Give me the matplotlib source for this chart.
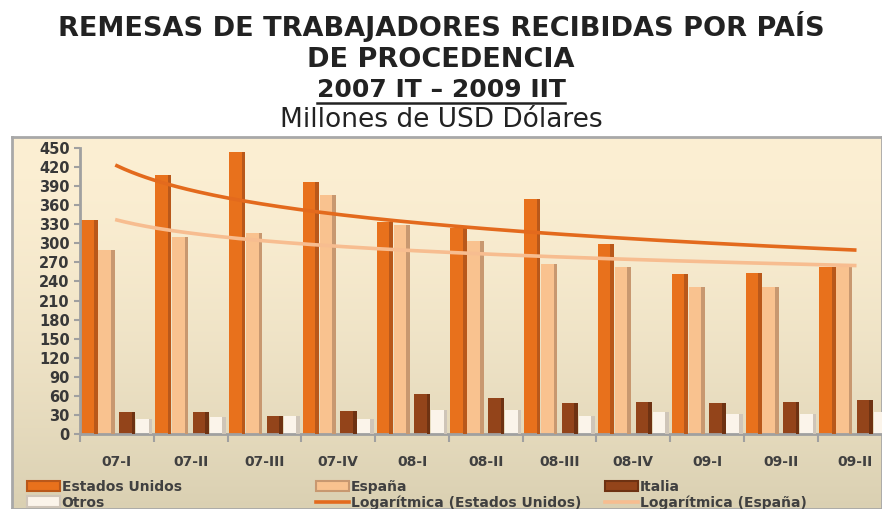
import numpy as np
import matplotlib.pyplot as plt
from matplotlib.patches import Patch
from matplotlib.lines import Line2D

# -*- data (millones de USD)

trimestres = ["07-I", "07-II", "07-III", "07-IV", "08-I", "08-II",
              "08-III", "08-IV", "09-I", "09-II", "09-II"]
estados_unidos = [336, 407, 443, 396, 334, 324, 369, 299, 251, 253, 263]
espana = [290, 310, 317, 376, 329, 303, 267, 263, 232, 232, 262]
italia = [35, 35, 29, 36, 63, 57, 48, 50, 48, 50, 53]
otros = [23, 26, 28, 23, 37, 37, 28, 35, 31, 31, 34]

x = np.arange(1, len(trimestres) + 1)

# -*- figure and background of the chart area

fig = plt.figure(figsize=(8.82, 5.09), dpi=100)
W, H = 882.0, 509.0

bg = fig.add_axes([12 / W, 0, 1 - 12 / W, (H - 137) / H], zorder=0)
grad = np.linspace(0, 1, 256).reshape(-1, 1)
c_top = np.array([252, 239, 211]) / 255
c_bot = np.array([218, 208, 178]) / 255
img = c_top + (c_bot - c_top) * grad[..., None] ** 1.6
bg.imshow(img.reshape(256, 1, 3), aspect="auto", extent=[0, 1, 0, 1])
bg.set_xticks([])
bg.set_yticks([])
for s in bg.spines.values():
    s.set_color("#a8a8a8")
    s.set_linewidth(2)

# -*- bars

ax = fig.add_axes([80 / W, (H - 434) / H, (W - 80) / W, (434 - 148) / H], zorder=1)
ax.patch.set_alpha(0)

w = 0.22
series = [
    (estados_unidos, -0.37, "#e8711c", "#b9581a", "Estados Unidos"),
    (espana, -0.14, "#f9c28f", "#c89870", "España"),
    (italia, 0.14, "#93441a", "#6e3212", "Italia"),
    (otros, 0.37, "#fbf4ea", "#cfc5b8", "Otros"),
]
handles = {}
for vals, off, col, dark, name in series:
    ax.bar(x + off, vals, width=w, color=col, zorder=2)
    ax.bar(x + off + w / 2 - 0.025, vals, width=0.05, color=dark, zorder=3)
    handles[name] = Patch(facecolor=col, edgecolor=dark, linewidth=1.5)

# -*- logarithmic trend lines (least squares on ln(x), as in the spreadsheet)

xs = np.linspace(1, len(trimestres), 200)
p_us = np.polyfit(np.log(x), estados_unidos, 1)
p_es = np.polyfit(np.log(x), espana, 1)
ax.plot(xs, np.polyval(p_us, np.log(xs)), color="#e36a1d", lw=2.6, zorder=4)
ax.plot(xs, np.polyval(p_es, np.log(xs)), color="#f7bd90", lw=2.6, zorder=4)
handles["Logarítmica (Estados Unidos)"] = Line2D([], [], color="#e36a1d", lw=2.6)
handles["Logarítmica (España)"] = Line2D([], [], color="#f7bd90", lw=2.6)

# -*- axes

ax.set_xlim(0.5, 11.37)
ax.set_ylim(0, 450)
ax.set_yticks(range(0, 451, 30))
ax.set_xticks(x)
ax.set_xticklabels(trimestres)
ax.set_xticks(np.arange(0.5, 11.5, 1), minor=True)
ax.tick_params(axis="x", which="major", length=0, pad=15, labelsize=10,
               labelcolor="#404040")
ax.tick_params(axis="x", which="minor", length=6, color="#a0a0a0", width=1.5)
ax.tick_params(axis="y", length=4, color="#a0a0a0", width=1.5, labelsize=10.5,
               labelcolor="#383838")
for lab in ax.get_xticklabels() + ax.get_yticklabels():
    lab.set_fontweight("bold")
for side in ["top", "right"]:
    ax.spines[side].set_visible(False)
for side in ["left", "bottom"]:
    ax.spines[side].set_color("#a0a0a0")
    ax.spines[side].set_linewidth(2)

# -*- legend, three columns of two rows

cols = [
    (["Estados Unidos", "Otros"], 20),
    (["España", "Logarítmica (Estados Unidos)"], 309),
    (["Italia", "Logarítmica (España)"], 598),
]
for names, xpos in cols:
    leg = fig.legend([handles[n] for n in names], names,
                     loc="upper left", bbox_to_anchor=(xpos / W, (H - 473) / H),
                     frameon=False, handlelength=2.4, handleheight=0.8,
                     handletextpad=0.1, labelspacing=0.12, borderpad=0,
                     prop={"weight": "bold", "size": 10})
    for t in leg.get_texts():
        t.set_color("#404040")

# -*- titles

tkw = dict(ha="center", va="baseline", color="#222222", family="DejaVu Sans")
fig.text(0.5, (H - 36) / H, "REMESAS DE TRABAJADORES RECIBIDAS POR PAÍS",
         fontsize=19.5, fontweight="bold", **tkw)
fig.text(0.5, (H - 67) / H, "DE PROCEDENCIA", fontsize=19.5, fontweight="bold", **tkw)
sub = fig.text(0.5, (H - 97) / H, "2007 IT – 2009 IIT", fontsize=18,
               fontweight="bold", **tkw)
fig.text(0.5, (H - 127) / H, "Millones de USD Dólares", fontsize=19, **tkw)

fig.canvas.draw()
bb = sub.get_window_extent()
fig.add_artist(Line2D([bb.x0 / W, bb.x1 / W], [(H - 103) / H] * 2,
                      color="#222222", lw=1.8))

fig.savefig("out.png", dpi=100)
